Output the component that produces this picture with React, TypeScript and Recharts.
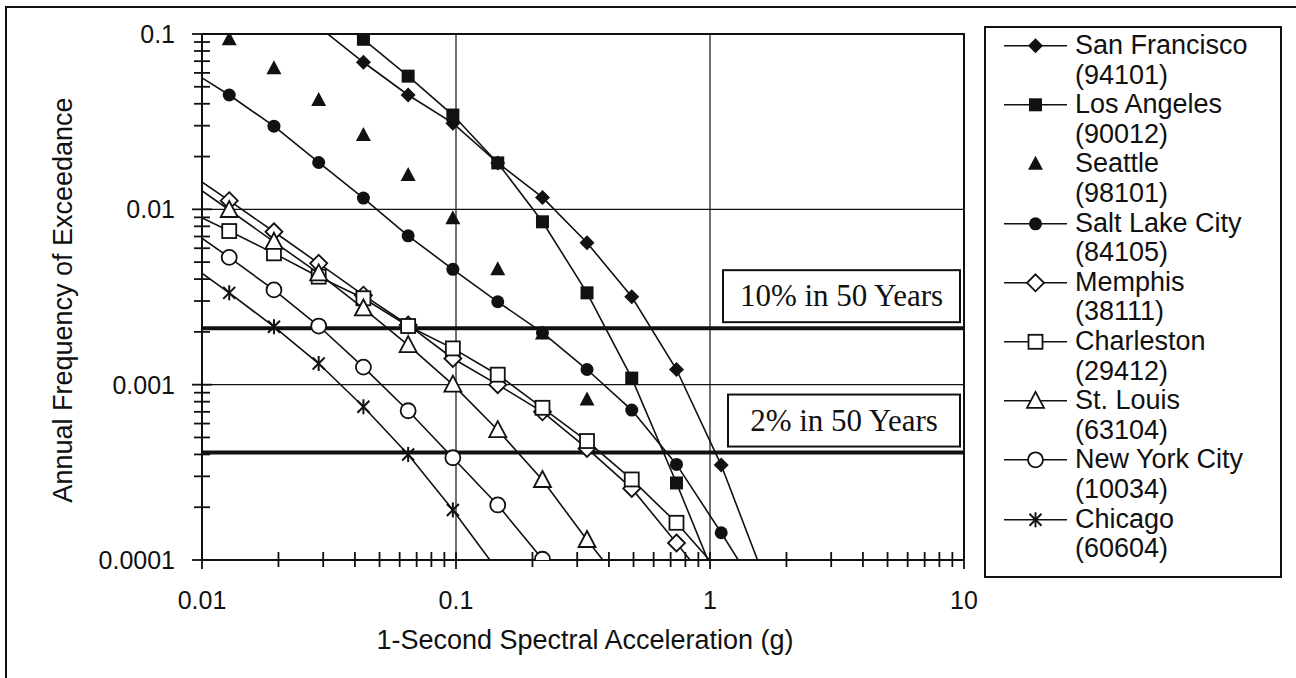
import React from 'react'
import {
  ScatterChart, Scatter, XAxis, YAxis, ReferenceLine, ReferenceArea, Legend,
} from 'recharts'

// spectral accelerations (g) at which the hazard curves were sampled
const accel = [0.00853, 0.0128, 0.0192, 0.0288, 0.0432, 0.0648, 0.0972, 0.146, 0.219, 0.328, 0.492, 0.738, 1.107, 1.66]

// annual frequency of exceedance, one entry per accel value (null = not plotted)
const sanFrancisco = [null, null, null, 0.11, 0.069, 0.0449, 0.031, 0.0184, 0.0117, 0.00645, 0.00317, 0.00122, 0.000348, 0.000075]
const losAngeles = [null, null, null, 0.146, 0.0933, 0.0575, 0.0345, 0.0184, 0.00849, 0.00334, 0.00109, 0.000275, 0.000065, null]
const seattle = [null, 0.0933, 0.0637, 0.042, 0.0265, 0.0157, 0.00889, 0.00455, 0.00196, 0.000824, null, null, null, null]
const saltLakeCity = [0.065, 0.0449, 0.0298, 0.0185, 0.0116, 0.00706, 0.00455, 0.00297, 0.00198, 0.00122, 0.000716, 0.000351, 0.000143, 0.000056]
const memphis = [0.0168, 0.0112, 0.00745, 0.00492, 0.00324, 0.00219, 0.00141, 0.001, 0.0007, 0.000433, 0.000256, 0.000125, 0.00006, null]
const charleston = [0.01, 0.00752, 0.00561, 0.00413, 0.00311, 0.00216, 0.00161, 0.00114, 0.000738, 0.000477, 0.000288, 0.000163, 0.000084, null]
const stLouis = [0.015, 0.00991, 0.00653, 0.00431, 0.00272, 0.00168, 0.001, 0.000551, 0.000286, 0.00013, 0.000062, null, null, null]
const newYorkCity = [0.00803, 0.00532, 0.00347, 0.00216, 0.00126, 0.00071, 0.000383, 0.000206, 0.000101, 0.000046, null, null, null, null]
const chicago = [0.0051, 0.00334, 0.00214, 0.00132, 0.000748, 0.0004, 0.000193, 0.000087, null, null, null, null, null, null]

const cityNames = ['San Francisco', 'Los Angeles', 'Seattle', 'Salt Lake City', 'Memphis', 'Charleston', 'St. Louis', 'New York City', 'Chicago']
const zipCodes = ['94101', '90012', '98101', '84105', '38111', '29412', '63104', '10034', '60604']
const markerKinds = ['diamond', 'square', 'triangle', 'circle', 'openDiamond', 'openSquare', 'openTriangle', 'openCircle', 'star']

const riskLevels = [0.0021, 0.00041]
const riskLabels = ['10% in 50 Years', '2% in 50 Years']

const xMajor = [0.01, 0.1, 1, 10]
const xLabels = ['0.01', '0.1', '1', '10']
const xMinor = [0.02, 0.03, 0.04, 0.05, 0.06, 0.07, 0.08, 0.09, 0.2, 0.3, 0.4, 0.5, 0.6, 0.7, 0.8, 0.9, 2, 3, 4, 5, 6, 7, 8, 9]
const yMajor = [0.0001, 0.001, 0.01, 0.1]
const yLabels = ['0.0001', '0.001', '0.01', '0.1']
const yMinor = [0.0002, 0.0003, 0.0004, 0.0005, 0.0006, 0.0007, 0.0008, 0.0009, 0.002, 0.003, 0.004, 0.005, 0.006, 0.007, 0.008, 0.009, 0.02, 0.03, 0.04, 0.05, 0.06, 0.07, 0.08, 0.09]

const seriesValues = [sanFrancisco, losAngeles, seattle, saltLakeCity, memphis, charleston, stLouis, newYorkCity, chicago]
const seriesData = seriesValues.map((vals) =>
  vals.flatMap((y, i) => (y == null ? [] : [{ x: accel[i], y }])),
)

const INK = '#111'
const SANS = '"Liberation Sans", Arial, sans-serif'
const SERIF = '"Liberation Serif", "Times New Roman", serif'

function Marker({ kind, cx, cy }: { kind: string; cx: number; cy: number }) {
  switch (kind) {
    case 'diamond':
      return <path d={`M${cx} ${cy - 7.5}L${cx + 7.5} ${cy}L${cx} ${cy + 7.5}L${cx - 7.5} ${cy}Z`} fill={INK} />
    case 'square':
      return <rect x={cx - 6.5} y={cy - 6.5} width={13} height={13} fill={INK} />
    case 'triangle':
      return <path d={`M${cx} ${cy - 8}L${cx + 7.5} ${cy + 6}L${cx - 7.5} ${cy + 6}Z`} fill={INK} />
    case 'circle':
      return <circle cx={cx} cy={cy} r={6.5} fill={INK} />
    case 'openDiamond':
      return <path d={`M${cx} ${cy - 8.5}L${cx + 8.5} ${cy}L${cx} ${cy + 8.5}L${cx - 8.5} ${cy}Z`} fill="#fff" stroke={INK} strokeWidth={1.8} />
    case 'openSquare':
      return <rect x={cx - 7} y={cy - 7} width={14} height={14} fill="#fff" stroke={INK} strokeWidth={1.8} />
    case 'openTriangle':
      return <path d={`M${cx} ${cy - 9}L${cx + 8.5} ${cy + 7}L${cx - 8.5} ${cy + 7}Z`} fill="#fff" stroke={INK} strokeWidth={1.8} />
    case 'openCircle':
      return <circle cx={cx} cy={cy} r={7.5} fill="#fff" stroke={INK} strokeWidth={1.8} />
    default:
      return (
        <g stroke={INK} strokeWidth={2}>
          <line x1={cx - 6} y1={cy - 6} x2={cx + 6} y2={cy + 6} />
          <line x1={cx - 6} y1={cy + 6} x2={cx + 6} y2={cy - 6} />
          <line x1={cx} y1={cy - 7.5} x2={cx} y2={cy + 7.5} />
        </g>
      )
  }
}

const findMajor = (list: number[], v: number) => list.findIndex((m) => Math.abs(m - v) < m * 1e-6)

function XTick(props: any) {
  const { x, y, payload } = props
  const k = findMajor(xMajor, payload.value)
  return (
    <g>
      <line x1={x} x2={x} y1={y - 8} y2={y + (k >= 0 ? 9 : 7)} stroke={INK} strokeWidth={1.8} />
      {k >= 0 && (
        <text x={x} y={y + 40} dy="0.36em" textAnchor="middle" fontSize={25} fill={INK} fontFamily={SANS}>
          {xLabels[k]}
        </text>
      )}
    </g>
  )
}

function YTick(props: any) {
  const { x, y, payload } = props
  const k = findMajor(yMajor, payload.value)
  const half = k >= 0 ? 10 : 8
  return (
    <g>
      <line x1={x - half} x2={x + half} y1={y} y2={y} stroke={INK} strokeWidth={1.8} />
      {k >= 0 && (
        <text x={x - 27} y={y} dy="0.36em" textAnchor="end" fontSize={25} fill={INK} fontFamily={SANS}>
          {yLabels[k]}
        </text>
      )}
    </g>
  )
}

function XTitle(props: any) {
  const { x, y, width } = props.viewBox
  return (
    <text x={x + width / 2 + 2} y={y + 89} textAnchor="middle" fontSize={27} fill={INK} fontFamily={SANS}>
      1-Second Spectral Acceleration (g)
    </text>
  )
}

function YTitle(props: any) {
  const { x, y, height } = props.viewBox
  return (
    <text
      transform={`translate(${x + 63},${y + height / 2 + 3}) rotate(-90)`}
      textAnchor="middle"
      dominantBaseline="central"
      fontSize={27}
      fill={INK}
      fontFamily={SANS}
    >
      Annual Frequency of Exceedance
    </text>
  )
}

function RiskBox(props: any) {
  const { viewBox, text, boxWidth } = props
  const right = viewBox.x + viewBox.width - 4
  const bottom = viewBox.y - 6
  return (
    <g>
      <rect x={right - boxWidth} y={bottom - 52} width={boxWidth} height={52} fill="#fff" stroke={INK} strokeWidth={2} />
      <text x={right - boxWidth / 2} y={bottom - 26} dy="0.33em" textAnchor="middle" fontSize={31} fill={INK} fontFamily={SERIF}>
        {text}
      </text>
    </g>
  )
}

function LegendBox() {
  return (
    <div
      style={{
        boxSizing: 'border-box', width: 298, height: 552, border: `2px solid ${INK}`, paddingTop: 3,
        background: '#fff', fontFamily: SANS, fontSize: 27, color: INK, lineHeight: '29.6px',
      }}
    >
      {cityNames.map((name, i) => (
        <div key={name} style={{ display: 'flex', alignItems: 'flex-start', height: 59.2 }}>
          <svg width={63} height={29.6} style={{ marginLeft: 18, flex: 'none' }}>
            {markerKinds[i] !== 'triangle' && (
              <line x1={0} x2={63} y1={14.8} y2={14.8} stroke={INK} strokeWidth={1.6} />
            )}
            <Marker kind={markerKinds[i]} cx={31.5} cy={14.8} />
          </svg>
          <div style={{ marginLeft: 8, whiteSpace: 'nowrap' }}>
            {name}
            <br />({zipCodes[i]})
          </div>
        </div>
      ))}
    </div>
  )
}

export default function App() {
  return (
    <div style={{ position: 'absolute', left: 0, top: 0, width: 1296, height: 678, background: '#fff', overflow: 'hidden' }}>
      <div style={{ position: 'absolute', left: 5, top: 6, width: 1291, height: 672, borderTop: `2px solid ${INK}`, borderLeft: `2px solid ${INK}` }} />
      <ScatterChart width={1296} height={678} margin={{ top: 34, right: 332, bottom: 0, left: 0 }}>
        <XAxis
          type="number"
          dataKey="x"
          scale="log"
          domain={[0.01, 10]}
          allowDataOverflow
          ticks={[...xMajor, ...xMinor]}
          interval={0}
          tickSize={0}
          tickMargin={0}
          tick={<XTick />}
          tickLine={false}
          axisLine={false}
          height={118}
          label={<XTitle />}
        />
        <YAxis
          type="number"
          dataKey="y"
          scale="log"
          domain={[0.0001, 0.1]}
          allowDataOverflow
          ticks={[...yMajor, ...yMinor]}
          interval={0}
          tickSize={0}
          tickMargin={0}
          tick={<YTick />}
          tickLine={false}
          axisLine={false}
          width={202}
          label={<YTitle />}
        />
        <ReferenceLine x={0.1} stroke={INK} strokeWidth={1.2} />
        <ReferenceLine x={1} stroke={INK} strokeWidth={1.2} />
        <ReferenceLine y={0.01} stroke={INK} strokeWidth={1.2} />
        <ReferenceLine y={0.001} stroke={INK} strokeWidth={1.2} />
        <ReferenceArea x1={0.01} x2={10} y1={0.0001} y2={0.1} fill="none" stroke={INK} strokeWidth={2} />
        {riskLevels.map((level, i) => (
          <ReferenceLine
            key={riskLabels[i]}
            y={level}
            stroke={INK}
            strokeWidth={4}
            label={<RiskBox text={riskLabels[i]} boxWidth={i === 0 ? 237 : 232} />}
          />
        ))}
        {cityNames.map((name, i) => (
          <Scatter
            key={name}
            name={name}
            data={seriesData[i]}
            line={markerKinds[i] === 'triangle' ? false : { stroke: INK, strokeWidth: 1.6 }}
            shape={(p: any) => <Marker kind={markerKinds[i]} cx={p.cx} cy={p.cy} />}
            isAnimationActive={false}
          />
        ))}
        <Legend
          layout="horizontal"
          align="center"
          verticalAlign="middle"
          content={() => <LegendBox />}
          wrapperStyle={{ left: 984, top: 26, width: 298, height: 552 }}
        />
      </ScatterChart>
    </div>
  )
}
